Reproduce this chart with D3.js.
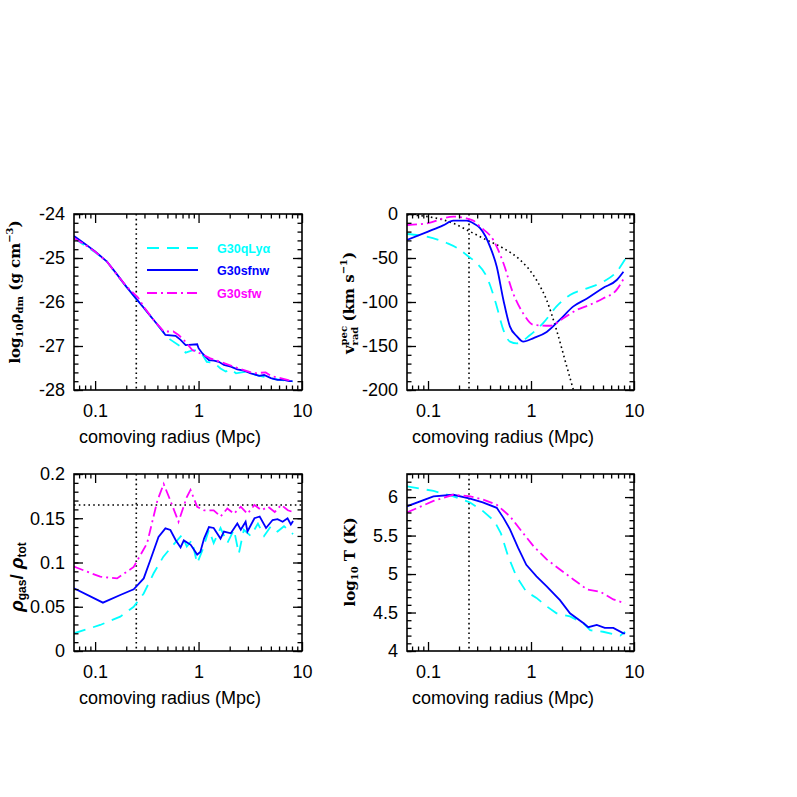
<!DOCTYPE html>
<html>
<head>
<meta charset="utf-8">
<script src="https://cdn.jsdelivr.net/npm/d3@7"></script>
<style>
  body { margin: 0; background: #fff; }
  svg { display: block; }
</style>
</head>
<body>
<svg id="fig" width="797" height="797"></svg>
<script>
const rMin = 0.0625, rMax = 10;
const radiusTicks = [0.1, 1, 10];
const radiusMinor = [0.07, 0.08, 0.09, 0.2, 0.3, 0.4, 0.5, 0.6, 0.7, 0.8, 0.9, 2, 3, 4, 5, 6, 7, 8, 9];
const rCore = 0.25;        // vertical dotted marker
const baryonFrac = 0.165;  // horizontal dotted marker (gas fraction panel)

const seriesNames = ["G30qLy\u03b1", "G30sfnw", "G30sfw"];
const seriesColors = ["#00ffff", "#0000ff", "#ff00ff"];
const seriesDash = ["12,8", null, "10,4,2,4"];

// log10 rho_dm vs r
const dmCyan = [[0.0625,-24.55],[0.08,-24.72],[0.1,-24.87],[0.13,-25.08],[0.16,-25.36],[0.2,-25.65],[0.25,-25.93],[0.3,-26.15],[0.368,-26.41],[0.46,-26.7],[0.53,-26.85],[0.67,-27.01],[0.75,-27.15],[0.87,-27.1],[0.97,-27.1],[1.09,-27.2],[1.2,-27.36],[1.41,-27.38],[1.63,-27.51],[1.83,-27.58],[2.05,-27.53],[2.3,-27.62],[2.6,-27.6],[3.0,-27.58],[3.5,-27.65],[4.3,-27.7],[5.4,-27.75],[6.7,-27.78],[8.1,-27.81]];
const dmBlue = [[0.0625,-24.5],[0.08,-24.68],[0.1,-24.85],[0.13,-25.08],[0.16,-25.35],[0.2,-25.65],[0.25,-25.93],[0.3,-26.15],[0.368,-26.41],[0.443,-26.64],[0.478,-26.75],[0.6,-26.77],[0.67,-26.86],[0.75,-26.98],[0.97,-26.96],[1.0,-27.05],[1.09,-27.17],[1.26,-27.32],[1.41,-27.33],[1.57,-27.36],[1.76,-27.43],[2.05,-27.47],[2.37,-27.53],[2.75,-27.56],[3.2,-27.62],[3.85,-27.68],[4.3,-27.66],[5.0,-27.73],[5.8,-27.77],[6.7,-27.77],[7.5,-27.8],[8.1,-27.8]];
const dmMagenta = [[0.0625,-24.55],[0.08,-24.7],[0.1,-24.86],[0.13,-25.08],[0.16,-25.36],[0.2,-25.64],[0.26,-25.9],[0.3,-26.13],[0.368,-26.41],[0.46,-26.67],[0.57,-26.67],[0.64,-26.75],[0.72,-26.86],[0.87,-27.09],[1.04,-27.17],[1.3,-27.28],[1.5,-27.33],[1.76,-27.39],[2.2,-27.47],[2.75,-27.55],[3.4,-27.62],[4.45,-27.6],[5.0,-27.68],[6.2,-27.73],[8.1,-27.8]];

// radial peculiar velocity vs r
const vCyan = [[0.0625,-22.7],[0.097,-25.8],[0.152,-33],[0.2,-40],[0.237,-46.6],[0.297,-56],[0.37,-71],[0.42,-88],[0.465,-105],[0.54,-132],[0.625,-145],[0.73,-147],[0.98,-137.5],[1.31,-124],[1.77,-105],[2.39,-92],[3.5,-84.5],[5.0,-77],[6.8,-65.5],[8.2,-51.5]];
const vBlue = [[0.0625,-29.5],[0.1,-20],[0.14,-13],[0.176,-7.6],[0.237,-7.6],[0.28,-11],[0.32,-16],[0.36,-25],[0.4,-37],[0.465,-60],[0.54,-98],[0.625,-128],[0.73,-139],[0.84,-145],[1.06,-141],[1.42,-134],[1.91,-120],[2.58,-105],[3.5,-96],[5.0,-84],[6.8,-75],[7.9,-65.6]];
const vMagenta = [[0.0625,-12.5],[0.097,-10.6],[0.176,-3],[0.237,-5],[0.28,-8],[0.32,-14.4],[0.43,-29.5],[0.54,-56],[0.67,-90],[0.84,-113],[1.06,-126],[1.53,-127],[2.06,-118.5],[2.78,-109],[3.75,-103],[5.0,-96],[6.8,-86],[7.9,-74]];
const vHubble = [[0.0625,-1],[0.1,-3],[0.176,-10.6],[0.256,-20],[0.37,-29.5],[0.54,-39],[0.78,-52],[1.13,-75],[1.42,-98],[1.77,-132],[2.22,-173],[2.58,-200],[2.8,-215]];

// rho_gas / rho_tot vs r
const fCyan = [[0.0625,0.02],[0.112,0.0294],[0.175,0.0388],[0.236,0.05],[0.295,0.065],[0.368,0.0878],[0.457,0.1066],[0.57,0.12],[0.69,0.131],[0.77,0.118],[0.86,0.125],[0.97,0.099],[1.09,0.114],[1.26,0.137],[1.4,0.122],[1.63,0.139],[1.9,0.122],[2.2,0.137],[2.45,0.11],[2.74,0.137],[3.2,0.13],[3.75,0.144],[4.3,0.13],[5.0,0.141],[5.8,0.135],[6.7,0.141],[8.2,0.132]];
const fBlue = [[0.0625,0.0708],[0.119,0.0546],[0.175,0.0633],[0.236,0.0697],[0.295,0.082],[0.342,0.1028],[0.41,0.129],[0.478,0.1386],[0.534,0.1367],[0.6,0.1254],[0.67,0.117],[0.72,0.125],[0.84,0.12],[0.97,0.109],[1.04,0.112],[1.13,0.127],[1.26,0.14],[1.4,0.139],[1.63,0.127],[1.76,0.135],[2.05,0.133],[2.37,0.144],[2.56,0.137],[2.85,0.146],[2.97,0.135],[3.47,0.15],[3.9,0.152],[4.49,0.139],[5.2,0.148],[5.8,0.149],[6.5,0.146],[7.25,0.15],[7.8,0.143],[8.2,0.147]];
const fMagenta = [[0.0625,0.0953],[0.112,0.084],[0.163,0.082],[0.236,0.095],[0.318,0.1217],[0.4,0.17],[0.46,0.1887],[0.534,0.17],[0.64,0.146],[0.77,0.174],[0.836,0.182],[0.97,0.163],[1.13,0.159],[1.4,0.159],[1.63,0.152],[1.9,0.161],[2.2,0.155],[2.56,0.163],[2.97,0.155],[3.47,0.165],[4.05,0.159],[4.7,0.163],[5.45,0.157],[6.3,0.165],[7.3,0.159],[8.2,0.157]];

// log10 T vs r
const tCyan = [[0.0625,6.14],[0.113,6.08],[0.176,6.01],[0.256,5.93],[0.34,5.82],[0.44,5.69],[0.51,5.53],[0.6,5.23],[0.72,4.97],[0.9,4.77],[1.13,4.69],[1.42,4.58],[1.77,4.49],[2.39,4.45],[3.24,4.36],[3.75,4.27],[5.0,4.25],[7.35,4.2],[8.2,4.25]];
const tBlue = [[0.0625,5.88],[0.113,6.01],[0.176,6.03],[0.256,5.98],[0.34,5.93],[0.465,5.86],[0.54,5.73],[0.625,5.58],[0.75,5.34],[0.9,5.12],[1.13,4.97],[1.42,4.84],[1.91,4.66],[2.39,4.49],[3.24,4.36],[3.6,4.31],[4.35,4.34],[5.2,4.3],[6.3,4.3],[7.9,4.23],[8.2,4.23]];
const tMagenta = [[0.0625,5.8],[0.113,5.95],[0.176,6.03],[0.256,6.01],[0.34,5.97],[0.465,5.9],[0.625,5.75],[0.84,5.53],[1.06,5.36],[1.42,5.19],[1.91,5.06],[2.58,4.93],[3.5,4.8],[4.7,4.77],[6.3,4.67],[8.2,4.62]];

const yTicksDm = [-28, -27, -26, -25, -24];
const yTicksV = [-200, -150, -100, -50, 0];
const yTicksF = [0, 0.05, 0.1, 0.15, 0.2];
const yTicksT = [4, 4.5, 5, 5.5, 6];

const svg = d3.select("#fig");
const tickFont = "'Liberation Sans', Arial, sans-serif";

const panels = [
  { id: 1, left: 74, top: 214, right: 302, bottom: 390, yDomain: [-28, -24], ticks: yTicksDm, minorStep: 0.2,
    series: [dmCyan, dmBlue, dmMagenta], legend: true },
  { id: 2, left: 407, top: 214, right: 634, bottom: 390, yDomain: [-200, 0], ticks: yTicksV, minorStep: 10,
    series: [vCyan, vBlue, vMagenta], extra: vHubble, smooth: true },
  { id: 3, left: 74, top: 474, right: 302, bottom: 651, yDomain: [0, 0.2], ticks: yTicksF, minorStep: 0.01,
    series: [fCyan, fBlue, fMagenta], hLine: baryonFrac },
  { id: 4, left: 407, top: 474, right: 634, bottom: 651, yDomain: [4, 6.3], ticks: yTicksT, minorStep: 0.1,
    series: [tCyan, tBlue, tMagenta] }
];

function drawPanel(p) {
  const w = p.right - p.left, h = p.bottom - p.top;
  const g = svg.append("g").attr("transform", `translate(${p.left},${p.top})`);
  const x = d3.scaleLog().domain([rMin, rMax]).range([0, w]);
  const y = d3.scaleLinear().domain(p.yDomain).range([h, 0]);

  g.append("clipPath").attr("id", "clip" + p.id)
    .append("rect").attr("width", w).attr("height", h);
  const plot = g.append("g").attr("clip-path", `url(#clip${p.id})`);

  plot.append("line")
    .attr("x1", x(rCore)).attr("x2", x(rCore))
    .attr("y1", 0).attr("y2", h)
    .attr("stroke", "#000").attr("stroke-width", 1.6).attr("stroke-dasharray", "1.6,3.2");

  if (p.hLine !== undefined) {
    plot.append("line")
      .attr("x1", 0).attr("x2", w)
      .attr("y1", y(p.hLine)).attr("y2", y(p.hLine))
      .attr("stroke", "#000").attr("stroke-width", 1.6).attr("stroke-dasharray", "1.6,3.2");
  }

  const line = d3.line()
    .x(d => x(d[0])).y(d => y(d[1]))
    .curve(p.smooth ? d3.curveMonotoneX : d3.curveLinear);

  if (p.extra) {
    plot.append("path").datum(p.extra).attr("d", line)
      .attr("fill", "none").attr("stroke", "#000").attr("stroke-width", 1.6)
      .attr("stroke-dasharray", "1.6,3.2");
  }

  p.series.forEach((s, i) => {
    plot.append("path").datum(s).attr("d", line)
      .attr("fill", "none")
      .attr("stroke", seriesColors[i])
      .attr("stroke-width", 1.8)
      .attr("stroke-dasharray", seriesDash[i]);
  });

  // ticks, all pointing inward on every side
  const minorY = d3.range(p.yDomain[0], p.yDomain[1] + 1e-9, p.minorStep)
    .map(v => +v.toFixed(4));
  const fmt = d => String(d);

  g.append("g").attr("transform", `translate(0,${h})`)
    .call(d3.axisBottom(x).tickValues(radiusTicks).tickSize(-9).tickPadding(14).tickFormat(fmt));
  g.append("g").attr("transform", `translate(0,${h})`)
    .call(d3.axisBottom(x).tickValues(radiusMinor).tickSize(-4.5).tickFormat(""));
  g.append("g")
    .call(d3.axisTop(x).tickValues(radiusTicks).tickSize(-9).tickFormat(""));
  g.append("g")
    .call(d3.axisTop(x).tickValues(radiusMinor).tickSize(-4.5).tickFormat(""));
  g.append("g")
    .call(d3.axisLeft(y).tickValues(p.ticks).tickSize(-9).tickPadding(9).tickFormat(fmt));
  g.append("g")
    .call(d3.axisLeft(y).tickValues(minorY).tickSize(-4.5).tickFormat(""));
  g.append("g").attr("transform", `translate(${w},0)`)
    .call(d3.axisRight(y).tickValues(p.ticks).tickSize(-9).tickFormat(""));
  g.append("g").attr("transform", `translate(${w},0)`)
    .call(d3.axisRight(y).tickValues(minorY).tickSize(-4.5).tickFormat(""));

  g.selectAll(".domain").remove();
  g.selectAll(".tick line").attr("stroke", "#000").attr("stroke-width", 1.3);
  g.selectAll(".tick text")
    .attr("fill", "#000")
    .style("font-family", tickFont)
    .style("font-size", "18px");

  g.append("rect").attr("width", w).attr("height", h)
    .attr("fill", "none").attr("stroke", "#000").attr("stroke-width", 1.6);

  g.append("text")
    .attr("x", 5).attr("y", h + 53)
    .style("font-family", tickFont).style("font-size", "18px")
    .text("comoving radius (Mpc)");

  if (p.legend) {
    const lx0 = 73, lx1 = 124, tx = 143;
    const ly = [34, 56, 79];
    seriesNames.forEach((name, i) => {
      g.append("line")
        .attr("x1", lx0).attr("x2", lx1).attr("y1", ly[i]).attr("y2", ly[i])
        .attr("stroke", seriesColors[i]).attr("stroke-width", 1.8)
        .attr("stroke-dasharray", seriesDash[i]);
      g.append("text")
        .attr("x", tx).attr("y", ly[i] + 4.5)
        .attr("fill", seriesColors[i])
        .style("font-family", tickFont).style("font-size", "12.5px").style("font-weight", "bold")
        .text(name);
    });
  }
}

panels.forEach(drawPanel);

// y axis titles (rotated)
const labelFont = "'DejaVu Serif', 'Liberation Serif', serif";

function yTitle(cx, cy, build, family, size) {
  const t = svg.append("text")
    .attr("transform", `translate(${cx},${cy}) rotate(-90)`)
    .attr("text-anchor", "middle")
    .attr("dominant-baseline", "middle")
    .style("font-family", family)
    .style("font-size", size + "px")
    .style("font-weight", "bold");
  build(t);
  return t;
}

yTitle(16, 292, t => {
  t.append("tspan").text("log");
  t.append("tspan").attr("dy", 4).style("font-size", "10px").text("10");
  t.append("tspan").attr("dy", -4).text("\u03c1");
  t.append("tspan").attr("dy", 4).style("font-size", "10px").text("dm");
  t.append("tspan").attr("dy", -4).text(" (g cm");
  t.append("tspan").attr("dy", -6).style("font-size", "10px").text("\u22123");
  t.append("tspan").attr("dy", 6).text(")");
}, labelFont, 15);

yTitle(350, 303, t => {
  t.append("tspan").text("v");
  const sup = t.append("tspan").attr("dy", -6).style("font-size", "10px").text("pec");
  const sub = t.append("tspan").attr("dy", 11).style("font-size", "10px").text("rad");
  sub.attr("dx", -sup.node().getComputedTextLength());
  t.append("tspan").attr("dy", -5).text(" (km s");
  t.append("tspan").attr("dy", -6).style("font-size", "10px").text("\u22121");
  t.append("tspan").attr("dy", 6).text(")");
}, labelFont, 15);

yTitle(18, 577, t => {
  t.append("tspan").style("font-style", "italic").text("\u03c1");
  t.append("tspan").attr("dy", 5).style("font-size", "12px").text("gas");
  t.append("tspan").attr("dy", -5).text("/ ");
  t.append("tspan").style("font-style", "italic").text("\u03c1");
  t.append("tspan").attr("dy", 5).style("font-size", "12px").text("tot");
}, tickFont, 19);

yTitle(351, 562, t => {
  t.append("tspan").text("log");
  t.append("tspan").attr("dy", 4).style("font-size", "10px").text("10");
  t.append("tspan").attr("dy", -4).text(" T (K)");
}, labelFont, 15);
</script>
</body>
</html>
